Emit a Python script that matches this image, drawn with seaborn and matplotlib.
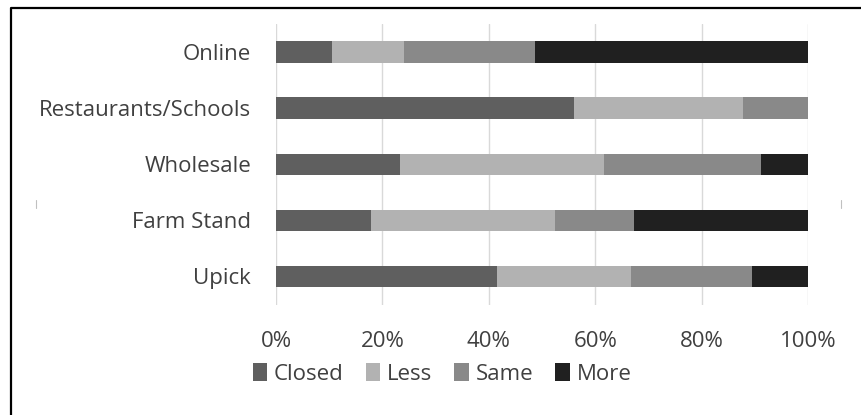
import matplotlib
matplotlib.use("Agg")
import matplotlib.pyplot as plt
from matplotlib.patches import Patch
from matplotlib.lines import Line2D
import seaborn as sns
import pandas as pd

categories = ["Online", "Restaurants/Schools", "Wholesale", "Farm Stand", "Upick"]
closed = [10.6, 56.0, 23.4, 17.9, 41.6]
less = [13.5, 31.8, 38.2, 34.6, 25.1]
same = [24.5, 12.2, 29.5, 14.7, 22.8]
more = [51.4, 0.0, 8.9, 32.8, 10.5]
series_names = ["Closed", "Less", "Same", "More"]
colors = ["#5f5f5f", "#b2b2b2", "#898989", "#202020"]
xticks = [0, 20, 40, 60, 80, 100]
xtick_labels = ["0%", "20%", "40%", "60%", "80%", "100%"]

sns.set_theme(style="white")
plt.rcParams["font.family"] = ["Open Sans", "DejaVu Sans"]

df = pd.DataFrame({"Category": categories, "Closed": closed, "Less": less,
                   "Same": same, "More": more})
cum = df[series_names].cumsum(axis=1)

fig = plt.figure(figsize=(8.62, 4.15), dpi=100)
ax = fig.add_axes([276/862, 1-304.5/415, 532/862, 280.5/415])

for name, col in reversed(list(zip(series_names, colors))):
    sns.barplot(x=cum[name], y=df["Category"], order=categories, color=col,
                width=0.38, saturation=1, ax=ax, orient="h", linewidth=0)

ax.set_xlim(0, 100)
ax.set_ylim(4.5, -0.5)
ax.set_xticks(xticks)
ax.set_xticklabels(xtick_labels)
ax.set_xlabel("")
ax.set_ylabel("")
for s in ax.spines.values():
    s.set_visible(False)
ax.grid(axis="x", color="#d9d9d9", linewidth=1)
ax.set_axisbelow(True)
ax.tick_params(axis="both", length=0, labelsize=16, labelcolor="#404040")
ax.tick_params(axis="x", pad=19)
ax.tick_params(axis="y", pad=18)

handles = [Patch(facecolor=c, edgecolor="none") for c in colors]
fig.legend(handles, series_names, loc="center", bbox_to_anchor=(442/862, 1-374/415),
           ncol=4, frameon=False, fontsize=16, handlelength=0.65, handleheight=0.85,
           handletextpad=0.3, columnspacing=1.0, labelcolor="#404040")

# partial frame (top and left edges only)
fig.add_artist(Line2D([11/862, 11/862, 1.0], [0.0, 1-8/415, 1-8/415],
                      transform=fig.transFigure, color="black", linewidth=1.6))
for xp in (36, 841):
    fig.add_artist(Line2D([xp/862, xp/862], [1-208/415, 1-200/415],
                          transform=fig.transFigure, color="#c0c0c0", linewidth=0.8))

fig.savefig("out.png", dpi=100)
